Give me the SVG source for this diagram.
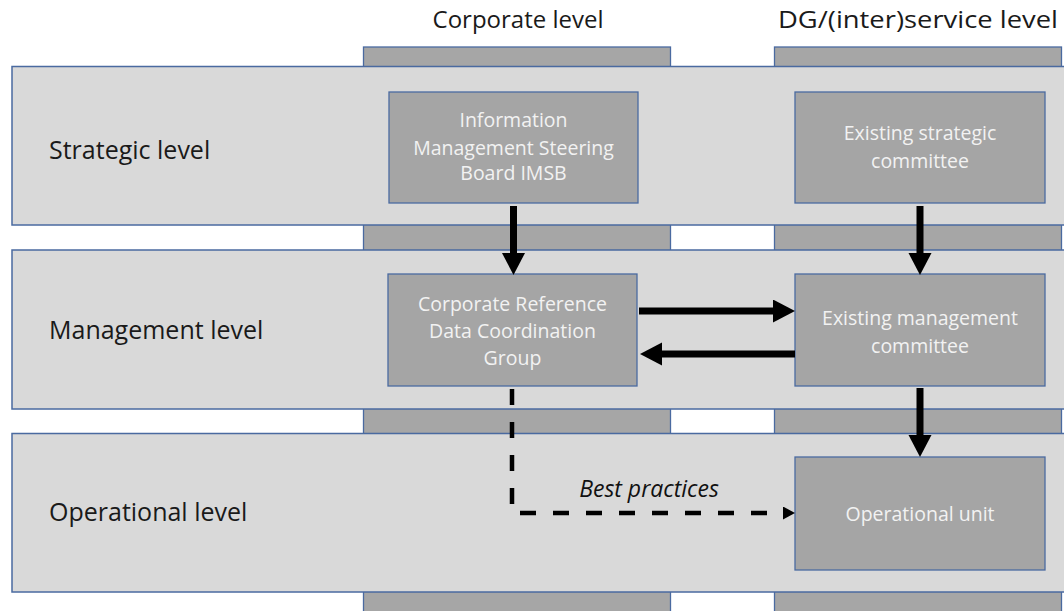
<svg xmlns="http://www.w3.org/2000/svg" width="1064" height="611" viewBox="0 0 1064 611">
<defs>
<style>
.col{fill:#a6a6a6;stroke:#4a6aa0;stroke-width:1.3}
.band{fill:#d9d9d9;stroke:#4a6aa0;stroke-width:1.5}
.node{fill:#a5a5a5;stroke:#4a6aa0;stroke-width:1.3}
.lbl{font-family:"Open Sans","Noto Sans",sans-serif;font-size:25px;fill:#1a1a1a}
.ttl{font-family:"Open Sans","Noto Sans",sans-serif;font-size:24px;fill:#1a1a1a;text-anchor:middle}
.nt{font-family:"Open Sans","Noto Sans",sans-serif;font-size:19.5px;fill:#f2f2f2;text-anchor:middle}
.bp{font-family:"Open Sans","Noto Sans",sans-serif;font-size:23px;font-style:italic;fill:#111;text-anchor:middle}
.thick{stroke:#000;stroke-width:7;fill:none}
.dash{stroke:#000;stroke-width:4.5;fill:none;stroke-dasharray:16 17}
</style>
<marker id="big" markerUnits="userSpaceOnUse" markerWidth="24" markerHeight="24" refX="0" refY="11.5" orient="auto">
<path d="M0,0 L22,11.5 L0,23 z" fill="#000"/>
</marker>
<marker id="small" markerUnits="userSpaceOnUse" markerWidth="14" markerHeight="14" refX="0" refY="6.5" orient="auto">
<path d="M0,0 L12,6.5 L0,13 z" fill="#000"/>
</marker>
</defs>
<rect width="1064" height="611" fill="#fff"/>
<g id="columns">
<rect class="col" x="363.5" y="47" width="307" height="580"/>
<rect class="col" x="774.5" y="47" width="287" height="580"/>
</g>
<g id="bands">
<g id="band-strategic"><rect class="band" x="12" y="66.5" width="1070" height="158.5"/><text class="lbl" x="49" y="159">Strategic level</text></g>
<g id="band-management"><rect class="band" x="12" y="250" width="1070" height="159"/><text class="lbl" x="49" y="339">Management level</text></g>
<g id="band-operational"><rect class="band" x="12" y="433.5" width="1070" height="158.5"/><text class="lbl" x="49" y="521">Operational level</text></g>
</g>
<g id="titles">
<text class="ttl" x="518" y="28">Corporate level</text>
<text class="ttl" x="918" y="28" textLength="280" lengthAdjust="spacingAndGlyphs">DG/(inter)service level</text>
</g>
<g id="imsb"><rect class="node" x="389" y="92" width="249" height="111"/>
<text class="nt" x="513.5" y="127">Information</text><text class="nt" x="513.5" y="155">Management Steering</text><text class="nt" x="513.5" y="180">Board IMSB</text></g>
<g id="strategic-committee"><rect class="node" x="795" y="92" width="250" height="111"/>
<text class="nt" x="920" y="140">Existing strategic</text><text class="nt" x="920" y="168">committee</text></g>
<g id="crdcg"><rect class="node" x="388" y="274" width="249" height="112"/>
<text class="nt" x="512.5" y="311">Corporate Reference</text><text class="nt" x="512.5" y="338">Data Coordination</text><text class="nt" x="512.5" y="365">Group</text></g>
<g id="management-committee"><rect class="node" x="795" y="274" width="250" height="112"/>
<text class="nt" x="920" y="325">Existing management</text><text class="nt" x="920" y="353">committee</text></g>
<g id="operational-unit"><rect class="node" x="795" y="457" width="250" height="113"/>
<text class="nt" x="920" y="521">Operational unit</text></g>
<g id="connectors">
<line class="thick" x1="513.5" y1="206" x2="513.5" y2="253" marker-end="url(#big)"/>
<line class="thick" x1="920" y1="206" x2="920" y2="253" marker-end="url(#big)"/>
<line class="thick" x1="920" y1="388" x2="920" y2="435" marker-end="url(#big)"/>
<line class="thick" x1="639" y1="311" x2="773" y2="311" marker-end="url(#big)"/>
<line class="thick" x1="795" y1="354" x2="662" y2="354" marker-end="url(#big)"/>
<path class="dash" d="M512,389 L512,513 L783,513" marker-end="url(#small)"/>
<text class="bp" x="649" y="497">Best practices</text>
</g>
</svg>
